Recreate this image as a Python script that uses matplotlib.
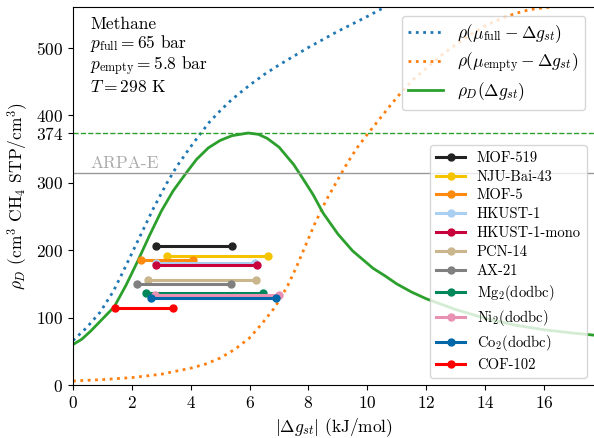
import numpy as np
import matplotlib
matplotlib.use("Agg")
import matplotlib.pyplot as plt

plt.rcParams["font.family"] = "cmr10"
plt.rcParams["mathtext.fontset"] = "cm"
plt.rcParams["axes.formatter.use_mathtext"] = True
plt.rcParams["font.size"] = 12.5

# curves (|dg_st| in kJ/mol, rho in cm3 STP/cm3)
full_x = [0, 0.46, 0.92, 1.37, 1.71, 2.05, 2.39, 2.73, 3.18, 3.52, 3.97, 4.26,
          4.65, 5.0, 5.33, 5.6, 6.0, 6.5, 7.0, 7.5, 8.0, 8.5, 9.0, 9.5, 10.0, 10.6]
full_y = [66, 85, 108, 139, 169, 200, 231, 262, 299, 324, 352, 369,
          391, 407, 421, 431, 445, 461, 475, 488, 501, 513, 525, 536, 547, 561]

empty_x = [0, 1.0, 2.0, 3.0, 4.0, 4.5, 5.0, 5.5, 6.0, 6.4, 6.8, 7.0, 7.3, 7.6,
           7.9, 8.2, 8.6, 9.0, 9.3, 9.65, 10.0, 10.4, 10.8, 11.2, 11.6, 12.0,
           12.5, 13.0, 13.5, 14.0, 14.5, 15.0, 15.5, 16.0, 16.5]
empty_y = [6, 8, 11, 16, 25, 31, 40, 53, 70, 90, 112, 125, 148, 176,
           207, 238, 274, 305, 328, 352, 372, 394, 416, 437, 455, 470,
           489, 505, 520, 533, 543, 551, 557, 560, 562]

deliv_x = [0, 0.3, 0.6, 1.0, 1.4, 1.8, 2.2, 2.6, 3.0, 3.4, 3.85, 4.2, 4.6, 5.0,
           5.4, 5.95, 6.3, 6.6, 7.0, 7.5, 7.8, 8.15, 8.5, 9.0, 9.5, 10.2, 10.6,
           11.0, 11.5, 12.0, 13.0, 14.0, 15.0, 16.0, 17.0, 17.7]
deliv_y = [60, 68, 80, 98, 116, 148, 184, 222, 258, 288, 315, 335, 352, 363,
           370, 374, 372, 366, 353, 327, 307, 283, 255, 224, 199, 173, 162,
           150, 138, 128, 112, 99, 89, 82, 77, 74]

rho_max = 374
arpa_e = 315

materials = ["MOF-519", "NJU-Bai-43", "MOF-5", "HKUST-1", "HKUST-1-mono", "PCN-14",
             "AX-21", r"Mg$_2$(dodbc)", r"Ni$_2$(dodbc)", r"Co$_2$(dodbc)", "COF-102"]
mat_rho = [207, 192, 186, 181, 178, 156, 150, 136, 133, 129, 115]
mat_lo = [2.81, 3.18, 2.31, 2.82, 2.81, 2.56, 2.19, 2.47, 2.77, 2.65, 1.43]
mat_hi = [5.41, 6.64, 4.09, 6.18, 6.24, 6.22, 5.36, 6.47, 7.01, 6.90, 3.39]
mat_colors = ["#222222", "#f5c400", "#ff8a10", "#a9cff2", "#c8003c", "#c9b68c",
              "#808080", "#00875a", "#e991b2", "#0068a8", "#ff0000"]

fig = plt.figure(figsize=(5.94, 4.38), dpi=100)
ax = fig.add_axes([73/594, 53/438, 521/594, 378/438])

l1, = ax.plot(full_x, full_y, ":", color="tab:blue", lw=2,
              label=r"$\rho(\mu_\mathrm{full} - \Delta g_{st})$")
l2, = ax.plot(empty_x, empty_y, ":", color="tab:orange", lw=2,
              label=r"$\rho(\mu_\mathrm{empty} - \Delta g_{st})$")
l3, = ax.plot(deliv_x, deliv_y, "-", color="tab:green", lw=2,
              label=r"$\rho_D(\Delta g_{st})$")

ax.axhline(rho_max, color="#2ca02c", ls="--", lw=1)
ax.axhline(arpa_e, color="#999999", lw=1)
ax.text(0.033, arpa_e + 3, "ARPA-E", color="#aaaaaa",
        transform=ax.get_yaxis_transform(), va="bottom", ha="left")

ax.text(0.033, 0.975, "Methane\n" + r"$p_\mathrm{full} = 65$ bar" + "\n"
        + r"$p_\mathrm{empty} = 5.8$ bar" + "\n" + r"$T = 298$ K",
        transform=ax.transAxes, va="top", ha="left", linespacing=1.05)

mat_handles = []
for name, r, lo, hi, c in zip(materials, mat_rho, mat_lo, mat_hi, mat_colors):
    h, = ax.plot([lo, hi], [r, r], "-o", color=c, lw=2.2, ms=5, label=name)
    mat_handles.append(h)

leg1 = ax.legend(handles=[l1, l2, l3], loc="upper right", fontsize=12.5,
                 labelspacing=0.3)
ax.add_artist(leg1)
ax.legend(handles=mat_handles, loc="lower right", fontsize=10.5, labelspacing=0.35)

ax.set_xlim(0, 17.7)
ax.set_ylim(0, 561)
ax.set_xticks(np.arange(0, 17, 2))
ax.set_yticks([0, 100, 200, 300, rho_max, 400, 500])
ax.spines["right"].set_visible(False)
ax.set_xlabel(r"$|\Delta g_{st}|$ (kJ/mol)")
ax.set_ylabel(r"$\rho_D$ (cm$^3$ CH$_4$ STP/cm$^3$)")

fig.savefig("out.png", dpi=100)
